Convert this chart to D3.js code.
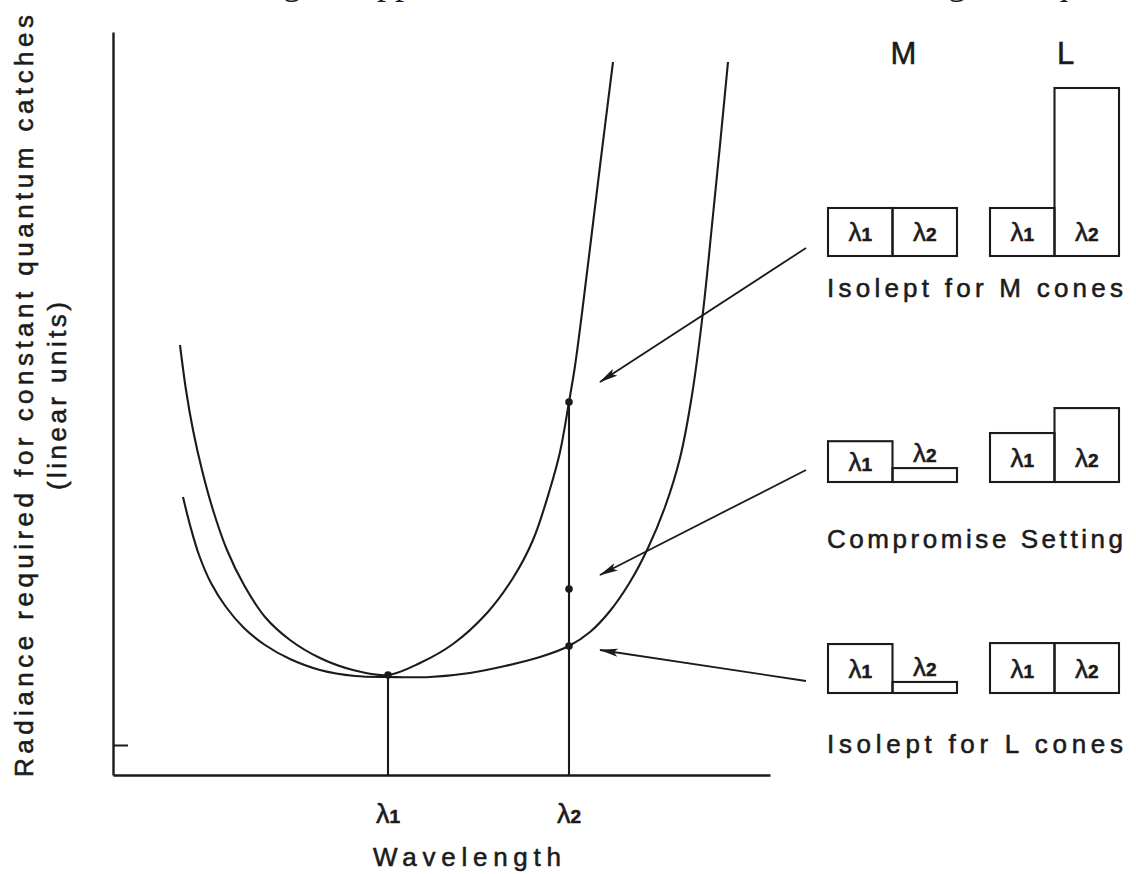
<!DOCTYPE html>
<html>
<head>
<meta charset="utf-8">
<script src="https://cdn.jsdelivr.net/npm/d3@7"></script>
<style>
  body { margin: 0; background: #fff; }
  svg text { font-family: "Liberation Sans", Arial, sans-serif; fill: #1b1b1b; }
  svg text.heavy { stroke: #1b1b1b; stroke-width: 0.55px; }
</style>
</head>
<body>
<svg id="chart"></svg>
<script>
// wavelength (x) vs radiance (y), arbitrary linear units
var curveA = [[6.7,43.0],[7.3,38.5],[8.0,34.5],[8.9,30.5],[10.0,26.5],[11.4,22.5],[13.1,19.0],
  [15.2,15.8],[17.7,13.5],[20.7,11.7],[24.0,10.5],[27.5,10.0],[30.7,11.2],[34.0,13.1],[37.4,16.2],
  [40.0,19.7],[42.0,23.5],[43.7,28.6],[44.7,32.3],[45.6,37.3],[46.2,40.9],[46.9,46.2],[47.7,52.7],
  [48.7,60.9],[50.0,71.3]];
var curveB = [[7.0,27.8],[7.7,25.0],[8.6,22.0],[9.8,19.2],[11.3,16.8],[13.1,14.7],[15.2,13.0],
  [17.7,11.6],[20.7,10.5],[24.2,9.9],[27.5,9.8],[31.7,9.8],[35.7,10.2],[39.2,10.9],[42.7,11.8],
  [45.6,12.9],[47.7,14.3],[49.7,16.4],[51.7,19.3],[53.5,22.7],[55.2,26.8],[56.7,31.7],[57.9,38.0],
  [59.0,46.3],[59.9,55.0],[60.7,63.0],[61.5,71.3]];

var lambdas = [27.5, 45.6];
var lambdaNames = ['1', '2'];
var dots = [[27.5,10.0],[45.6,37.3],[45.6,18.6],[45.6,12.9]];
var lineTops = [10.0, 37.3];          // vertical drop lines from curve to axis
var arrowTips = [[48.7,39.3],[48.7,20.0],[48.7,12.5]];
var yTicks = [3.0];

var yLabel = ['Radiance required for constant quantum catches', '(linear units)'];
var xLabel = 'Wavelength';

// right panel: relative quantum catches [at lambda1, at lambda2]
var cones = ['M', 'L'];
var settings = ['Isolept for M cones', 'Compromise Setting', 'Isolept for L cones'];
var catchM = [[1.0,1.0],[0.85,0.29],[1.02,0.23]];
var catchL = [[1.0,3.5],[1.02,1.54],[1.04,1.04]];

var titleBits = [['g', 283], ['pp', 377], ['g', 948], ['q', 1050]];

var W = 1136, H = 874;
var ink = '#1b1b1b';
var svg = d3.select('#chart').attr('width', W).attr('height', H);

var x = d3.scaleLinear().domain([0, 65.7]).range([113, 770]);
var y = d3.scaleLinear().domain([0, 74.3]).range([775, 32]);

// cropped title line at the very top (only descenders show)
svg.selectAll('.tbit').data(titleBits).enter().append('text')
  .attr('x', function (d) { return d[1]; }).attr('y', -6)
  .style('font-family', '"Liberation Serif", serif').attr('font-size', 36)
  .text(function (d) { return d[0]; });

var defs = svg.append('defs');
defs.append('marker').attr('id', 'head')
  .attr('viewBox', '0 0 19 9').attr('refX', 18).attr('refY', 4.5)
  .attr('markerWidth', 19).attr('markerHeight', 9)
  .attr('markerUnits', 'userSpaceOnUse').attr('orient', 'auto')
  .append('path').attr('d', 'M0,0.5L19,4.5L0,8.5L4,4.5Z').attr('fill', ink);

// axes
var yAxis = d3.axisLeft(y).tickValues(yTicks).tickSize(-15).tickSizeOuter(0).tickFormat('');
var xAxis = d3.axisBottom(x).tickValues([]).tickSizeOuter(0);
var gy = svg.append('g').attr('transform', 'translate(113,0)').call(yAxis);
var gx = svg.append('g').attr('transform', 'translate(0,775)').call(xAxis);
svg.selectAll('.domain').attr('stroke', ink).attr('stroke-width', 2.4);
gy.selectAll('.tick line').attr('stroke', ink).attr('stroke-width', 2);

// curves
var line = d3.line().x(function (d) { return x(d[0]); }).y(function (d) { return y(d[1]); })
  .curve(d3.curveCatmullRom.alpha(0.5));
[curveA, curveB].forEach(function (c) {
  svg.append('path').datum(c).attr('d', line)
    .attr('fill', 'none').attr('stroke', ink).attr('stroke-width', 2.1);
});

// drop lines at lambda1 / lambda2
svg.selectAll('.drop').data(lambdas).enter().append('line')
  .attr('x1', function (d) { return x(d); }).attr('x2', function (d) { return x(d); })
  .attr('y1', function (d, i) { return y(lineTops[i]); }).attr('y2', y(0))
  .attr('stroke', ink).attr('stroke-width', 2.1);

svg.selectAll('.dot').data(dots).enter().append('circle')
  .attr('cx', function (d) { return x(d[0]); }).attr('cy', function (d) { return y(d[1]); })
  .attr('r', 3.8).attr('fill', ink);

function lambdaText(sel, digit, big, small) {
  sel.append('tspan').attr('font-size', big).text('\u03bb');
  sel.append('tspan').attr('font-size', small).attr('font-weight', 'bold').text(digit);
}

svg.selectAll('.xlab').data(lambdas).enter().append('text').attr('class', 'heavy')
  .attr('x', function (d) { return x(d); }).attr('y', 823).attr('text-anchor', 'middle')
  .each(function (d, i) { lambdaText(d3.select(this), lambdaNames[i], 27, 19); });

svg.append('text').attr('class', 'heavy').attr('x', 467).attr('y', 866).attr('text-anchor', 'middle')
  .attr('font-size', 26).attr('textLength', 188).attr('lengthAdjust', 'spacing').text(xLabel);

svg.append('text').attr('class', 'heavy').attr('transform', 'translate(33,396) rotate(-90)')
  .attr('text-anchor', 'middle').attr('font-size', 26)
  .attr('textLength', 762).attr('lengthAdjust', 'spacing').text(yLabel[0]);
svg.append('text').attr('class', 'heavy').attr('transform', 'translate(66,396) rotate(-90)')
  .attr('text-anchor', 'middle').attr('font-size', 26)
  .attr('textLength', 188).attr('lengthAdjust', 'spacing').text(yLabel[1]);

// right panel
var rowBottom = [256, 482, 693];
var captionY = [297, 548, 753];
var groupX = [828, 990];
var cellW = 64.5;
var h = d3.scaleLinear().domain([0, 1]).range([0, 48]);

svg.selectAll('.cone').data(cones).enter().append('text').attr('class', 'heavy')
  .attr('x', function (d, i) { return groupX[i] + cellW + 11; }).attr('y', 64)
  .attr('text-anchor', 'middle').attr('font-size', 31).text(function (d) { return d; });

settings.forEach(function (s, r) {
  var yb = rowBottom[r];
  [catchM[r], catchL[r]].forEach(function (vals, c) {
    vals.forEach(function (v, i) {
      var x0 = groupX[c] + i * cellW;
      svg.append('rect').attr('x', x0).attr('y', yb - h(v))
        .attr('width', cellW).attr('height', h(v))
        .attr('fill', 'none').attr('stroke', ink).attr('stroke-width', 2.1);
      var t = svg.append('text').attr('class', 'heavy')
        .attr('x', x0 + cellW / 2).attr('text-anchor', 'middle');
      if (v < 0.5) t.attr('y', yb - h(v) - 6);
      else t.attr('y', yb - Math.min(h(v), h(1)) / 2 + 9);
      lambdaText(t, lambdaNames[i], 26, 19);
    });
  });
  svg.append('text').attr('class', 'heavy').attr('x', 827).attr('y', captionY[r])
    .attr('font-size', 26).attr('textLength', 296).attr('lengthAdjust', 'spacing').text(s);
});

// arrows from panel rows to the chart points
var tailY = [248, 470, 681];
svg.selectAll('.arrow').data(arrowTips).enter().append('line')
  .attr('x1', 806).attr('y1', function (d, i) { return tailY[i]; })
  .attr('x2', function (d) { return x(d[0]); }).attr('y2', function (d) { return y(d[1]); })
  .attr('stroke', ink).attr('stroke-width', 1.8).attr('marker-end', 'url(#head)');
</script>
</body>
</html>
